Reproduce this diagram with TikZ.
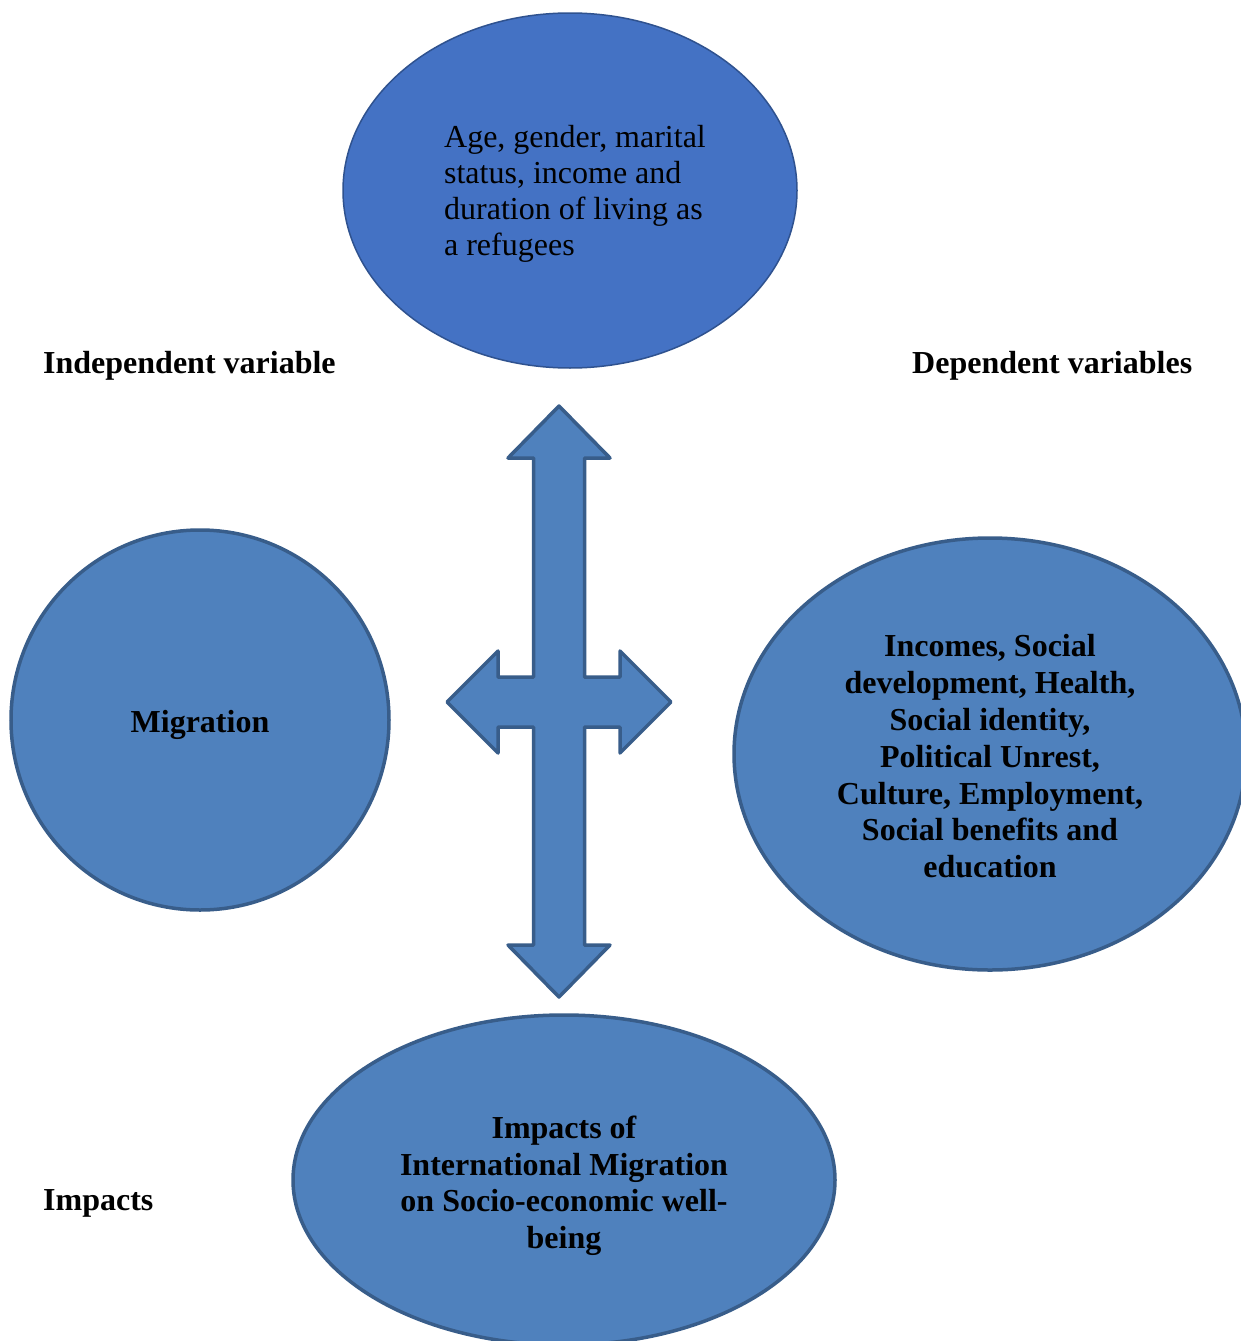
\documentclass[tikz,border=0pt]{standalone}
\usepackage{fontspec}
\setmainfont{Liberation Serif}
\usetikzlibrary{shapes.geometric}
\definecolor{bluefill}{HTML}{4F81BD}
\definecolor{bluedraw}{HTML}{385D8A}
\definecolor{topfill}{HTML}{4472C4}
\definecolor{topdraw}{HTML}{2F528F}
\newcommand{\indl}{\hspace*{10pt}}
\tikzset{
  blob/.style={ellipse, fill=bluefill, draw=bluedraw, line width=3.5pt, inner sep=0pt,
    font=\fontsize{32}{36.8}\selectfont\bfseries, align=center, text=black},
  topblob/.style={ellipse, fill=topfill, draw=topdraw, line width=1.5pt, inner sep=0pt,
    font=\fontsize{32}{35.7}\selectfont, align=left, text=black},
  lbl/.style={font=\fontsize{32}{36.8}\selectfont\bfseries, inner sep=0pt},
  quadarrow/.style={fill=bluefill, draw=bluedraw, line width=3.5pt, line join=round}
}
\begin{document}
\begin{tikzpicture}[x=1pt,y=-1pt]
\clip (0,0) rectangle (1241,1341);
\fill[white] (0,0) rectangle (1241,1341);

\node[topblob, minimum width=454, minimum height=355] (top) at (570,190.5)
  {\rule{0pt}{29pt}\indl Age, gender, marital\\\indl status, income and\\\indl duration of living as\\\indl a refugees};

\node[blob, minimum width=378, minimum height=380] (mig) at (200,720) {\rule{0pt}{32pt}Migration};

\node[blob, minimum width=512, minimum height=432] (dep) at (990,754)
  {\rule{0pt}{27pt}Incomes, Social\\development, Health,\\Social identity,\\Political Unrest,\\Culture, Employment,\\Social benefits and\\education};

\node[blob, minimum width=542, minimum height=330] (imp) at (564,1180)
  {\rule{0pt}{34pt}Impacts of\\International Migration\\on Socio-economic well-\\being};

\node[lbl, anchor=base west] (indep) at (43,373) {Independent variable};
\node[lbl, anchor=base west] (deplbl) at (912,373) {Dependent variables};
\node[lbl, anchor=base west] (implbl) at (43,1210) {Impacts};

\draw[quadarrow] (559,406) -- (610,458) -- (584.5,458) -- (584.5,677) -- (620,677)
  -- (620,651) -- (671,702) -- (620,753) -- (620,727) -- (584.5,727) -- (584.5,945)
  -- (610,945) -- (559,997) -- (508,945) -- (533.5,945) -- (533.5,727) -- (498,727)
  -- (498,753) -- (447,702) -- (498,651) -- (498,677) -- (533.5,677) -- (533.5,458)
  -- (508,458) -- cycle;
\end{tikzpicture}
\end{document}
